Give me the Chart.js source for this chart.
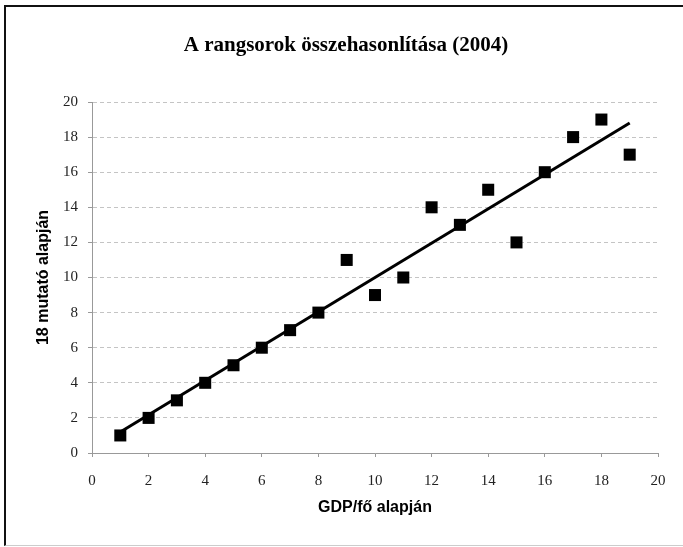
<!DOCTYPE html>
<html>
<head>
<meta charset="utf-8">
<script src="https://cdn.jsdelivr.net/npm/chart.js@4/dist/chart.umd.min.js"></script>
<style>
      html, body { margin: 0; padding: 0; background: #fff; }
      #wrap { position: relative; width: 683px; height: 547px; }
      #frame {
            position: absolute; left: 4px; top: 5px; width: 679px; height: 541px;
            box-sizing: border-box; border-left: 2px solid #111; border-top: 2px solid #111;
            border-bottom: 1px solid #ccc; pointer-events: none;
      }
</style>
</head>
<body>
<div id="wrap">
      <canvas id="rank-chart" width="683" height="547"></canvas>
      <div id="frame"></div>
</div>
<script>
// rank by GDP per capita vs rank by the 18 indicators
const gdpRank = [1, 2, 3, 4, 5, 6, 7, 8, 9, 10, 11, 12, 13, 14, 15, 16, 17, 18, 19]
const indicatorRank = [1, 2, 3, 4, 5, 6, 7, 8, 11, 9, 10, 14, 13, 15, 12, 16, 18, 19, 17]
// trend line ends
const trendX = [1, 19]
const trendY = [1.2, 18.8]
const axisMin = 0
const axisMax = 20
const axisStep = 2

const points = gdpRank.map((x, i) => ({ x: x, y: indicatorRank[i] }))
const trend = trendX.map((x, i) => ({ x: x, y: trendY[i] }))

const tickFont = { family: 'Liberation Serif', size: 15 }
const titleFont = { family: 'Liberation Sans', size: 16, weight: 'bold' }

new Chart(document.getElementById('rank-chart'), {
      type: 'scatter',
      data: {
            datasets: [{
                  data: trend,
                  showLine: true,
                  borderColor: '#000',
                  borderWidth: 3,
                  pointRadius: 0
            }, {
                  data: points,
                  pointStyle: 'rect',
                  pointRadius: 8.5,
                  backgroundColor: '#000',
                  borderColor: '#000',
                  borderWidth: 0
            }]
      },
      options: {
            responsive: false,
            animation: false,
            events: [],
            layout: { padding: { top: 0, right: 25, bottom: 10, left: 34 } },
            plugins: {
                  legend: { display: false },
                  tooltip: { enabled: false },
                  title: {
                        display: true,
                        text: 'A rangsorok összehasonlítása (2004)',
                        color: '#000',
                        font: { family: 'Liberation Serif', size: 21, weight: 'bold' },
                        padding: { top: 33.4, bottom: 43.4 }
                  }
            },
            scales: {
                  x: {
                        type: 'linear',
                        min: axisMin,
                        max: axisMax,
                        ticks: { stepSize: axisStep, color: '#222', font: tickFont, padding: 15 },
                        grid: { drawOnChartArea: false, tickLength: 4, color: '#999' },
                        border: { color: '#999', dash: [4, 3] },
                        title: {
                              display: true,
                              text: 'GDP/fő alapján',
                              color: '#000',
                              font: titleFont,
                              padding: { top: 0, bottom: 20 }
                        },
                        afterFit: scale => { scale.height = 84 }
                  },
                  y: {
                        type: 'linear',
                        min: axisMin,
                        max: axisMax,
                        ticks: { stepSize: axisStep, color: '#222', font: tickFont, padding: 10 },
                        grid: { tickLength: 4, color: '#c4c4c4', tickColor: '#999' },
                        border: { color: '#999', dash: [4, 3] },
                        title: {
                              display: true,
                              text: '18 mutató alapján',
                              color: '#000',
                              font: titleFont,
                              padding: { top: 0, bottom: 0 }
                        },
                        afterFit: scale => { scale.width = 58 }
                  }
            }
      }
})
</script>
</body>
</html>
